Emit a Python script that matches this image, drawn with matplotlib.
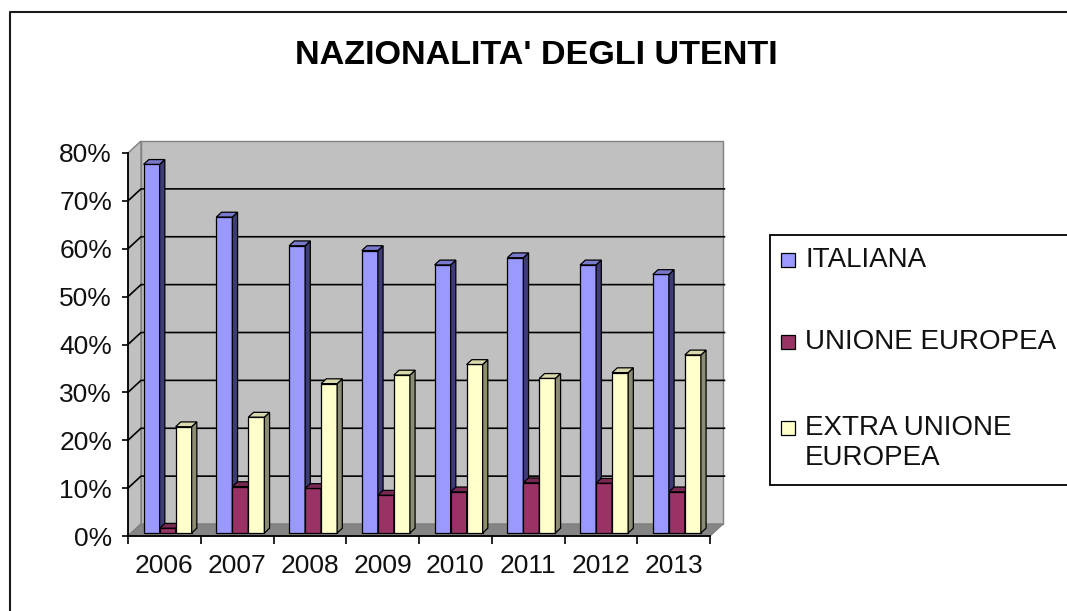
import matplotlib
matplotlib.use("Agg")
import matplotlib.pyplot as plt
from matplotlib.patches import Polygon, Rectangle
from matplotlib.lines import Line2D

# ---- data -------------------------------------------------------------
years = ["2006", "2007", "2008", "2009", "2010", "2011", "2012", "2013"]
italiana = [77, 66, 60, 59, 56, 57.5, 56, 54]
unione_europea = [1, 9.7, 9.3, 7.9, 8.6, 10.5, 10.4, 8.6]
extra_ue = [22.2, 24.2, 31.2, 33, 35.2, 32.3, 33.5, 37.2]
y_ticks = [0, 10, 20, 30, 40, 50, 60, 70, 80]
series_names = ["ITALIANA", "UNIONE EUROPEA", "EXTRA UNIONE\nEUROPEA"]
title = "NAZIONALITA' DEGLI UTENTI"

series = [italiana, unione_europea, extra_ue]
front_colors = ["#9999ff", "#993366", "#ffffcc"]
side_colors = ["#3d3d73", "#4d1a33", "#8c8c73"]
top_colors = ["#7a7acc", "#7a2952", "#d9d9ad"]

plt.rcParams["font.family"] = ["Liberation Sans", "DejaVu Sans"]

W, H = 1067, 611
fig = plt.figure(figsize=(W / 100, H / 100), dpi=100)
fig.patch.set_facecolor("white")

# front plane of the 3-D box
ax = fig.add_axes([128 / W, (H - 536) / H, 582 / W, 383 / H])
n = len(years)
ax.set_xlim(0, n)
ax.set_ylim(0, y_ticks[-1])
ax.patch.set_visible(False)

# depth offset of the box (pixels -> data units)
p0 = ax.transData.transform((0, 0))
p1 = ax.transData.transform((1, 1))
DX = 13 / (p1[0] - p0[0])
DY = 12 / (p1[1] - p0[1])
ymax = y_ticks[-1]

wall_kw = dict(clip_on=False, linewidth=1.0, edgecolor="#808080")
# back wall
ax.add_patch(Rectangle((DX, DY), n, ymax, facecolor="#c0c0c0", zorder=0.5, **wall_kw))
# left side wall
ax.add_patch(Polygon([(0, 0), (DX, DY), (DX, ymax + DY), (0, ymax)],
                     closed=True, facecolor="#c0c0c0", zorder=0.6, **wall_kw))
# floor
ax.add_patch(Polygon([(0, 0), (n, 0), (n + DX, DY), (DX, DY)],
                     closed=True, facecolor="#858585", zorder=0.7, **wall_kw))

# gridlines on the side and back walls
for v in y_ticks[1:-1]:
    ax.add_line(Line2D([0, DX, n + DX + 0.02], [v, v + DY, v + DY],
                       color="black", linewidth=1.2, zorder=0.9, clip_on=False))

# bars with depth
f0, f1 = 0.25, 0.65
bw = 0.22
start = 0.17
d = f1 - f0
for i in range(n):
    for j, vals in enumerate(series):
        z = 3 + (i * 3 + j) * 0.01
        h = vals[i]
        x0 = i + start + j * bw + f0 * DX
        b = f0 * DY
        bar = ax.bar([x0], [h], width=bw, bottom=b, align="edge",
                     color=front_colors[j], edgecolor="black", linewidth=0.9,
                     zorder=z, clip_on=False)
        x1 = x0 + bw
        ax.add_patch(Polygon([(x1, b), (x1 + d * DX, b + d * DY),
                              (x1 + d * DX, b + h + d * DY), (x1, b + h)],
                             closed=True, facecolor=side_colors[j], edgecolor="black",
                             linewidth=0.9, zorder=z + 0.001, clip_on=False))
        ax.add_patch(Polygon([(x0, b + h), (x1, b + h),
                              (x1 + d * DX, b + h + d * DY), (x0 + d * DX, b + h + d * DY)],
                             closed=True, facecolor=top_colors[j], edgecolor="black",
                             linewidth=0.9, zorder=z + 0.002, clip_on=False))

# axes lines and ticks
for s in ("top", "right"):
    ax.spines[s].set_visible(False)
for s in ("left", "bottom"):
    ax.spines[s].set_color("black")
    ax.spines[s].set_linewidth(1.3)
    ax.spines[s].set_zorder(2)

ax.set_yticks(y_ticks)
ax.set_yticklabels([f"{v}%" for v in y_ticks])
ax.tick_params(axis="y", direction="out", length=4.5, width=1.2, pad=7,
               labelsize=19, colors="black", labelcolor="#111111")

ax.set_xticks(range(n + 1))
ax.set_xticklabels([])
ax.set_xticks([i + 0.5 for i in range(n)], minor=True)
ax.set_xticklabels(years, minor=True)
ax.tick_params(axis="x", which="major", direction="out", length=6, width=1.2)
ax.tick_params(axis="x", which="minor", length=0, pad=13, labelsize=19,
               labelcolor="#111111")

# title
fig.text(536.5 / W, 1 - 56 / H, title, ha="center", va="center",
         fontsize=24.6, fontweight="bold", color="black")

# chart area border (left and top edges)
fig.add_artist(Line2D([10 / W, 10 / W, 1.0], [0.0, 1 - 12 / H, 1 - 12 / H],
                      transform=fig.transFigure, color="#1a1a1a", linewidth=1.5))

# legend
fig.add_artist(Rectangle((770 / W, (H - 485) / H), (W + 10 - 770) / W, 250 / H,
                         transform=fig.transFigure, facecolor="white",
                         edgecolor="black", linewidth=1.3, clip_on=False))
legend_rows = [260, 342, 428]
for j, (name, yc) in enumerate(zip(series_names, legend_rows)):
    fig.add_artist(Rectangle((781 / W, (H - yc - 7) / H), 14 / W, 14 / H,
                             transform=fig.transFigure, facecolor=front_colors[j],
                             edgecolor="black", linewidth=0.9))
    lines = name.split("\n")
    for k, line in enumerate(lines):
        fig.text(805 / W, 1 - (yc + k * 30) / H, line, ha="left", va="center",
                 fontsize=20, color="#111111")

fig.savefig("out.png", dpi=100, facecolor="white")
